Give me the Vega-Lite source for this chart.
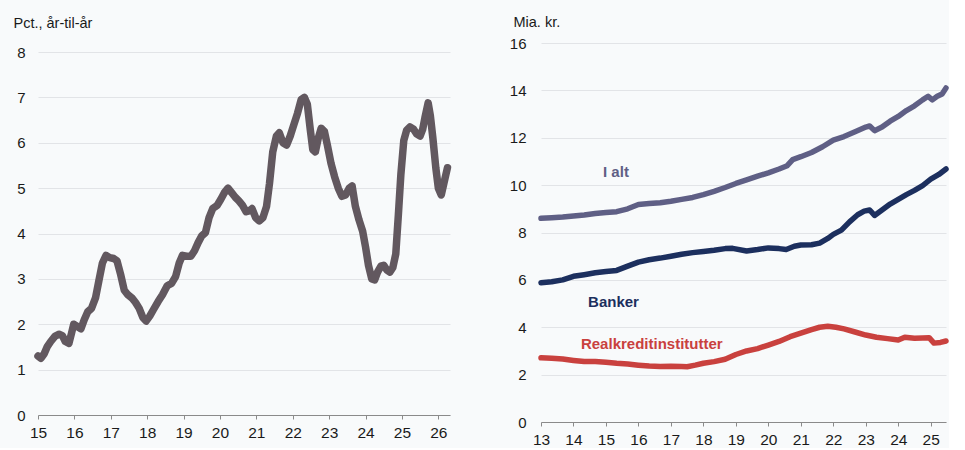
{
  "$schema": "https://vega.github.io/schema/vega-lite/v6.json",
  "background": "#f8fafb",
  "padding": {"left": 13, "top": 14, "right": 0, "bottom": 0},
  "spacing": 57,
  "config": {
    "font": "Liberation Sans",
    "view": {"stroke": null},
    "axis": {"labelFont": "Liberation Sans", "titleFont": "Liberation Sans", "labelColor": "#1a1a1a", "titleColor": "#1a1a1a"}
  },
  "hconcat": [
    {
      "width": 412,
      "height": 372,
      "data": {"values": [
        {"year": 2015.00, "value": 1.30}, {"year": 2015.08, "value": 1.25}, {"year": 2015.17, "value": 1.35},
        {"year": 2015.25, "value": 1.50}, {"year": 2015.35, "value": 1.62}, {"year": 2015.47, "value": 1.74},
        {"year": 2015.58, "value": 1.78}, {"year": 2015.67, "value": 1.75}, {"year": 2015.75, "value": 1.62},
        {"year": 2015.85, "value": 1.58}, {"year": 2015.92, "value": 1.80}, {"year": 2015.98, "value": 2.00},
        {"year": 2016.08, "value": 1.95}, {"year": 2016.18, "value": 1.90}, {"year": 2016.27, "value": 2.10},
        {"year": 2016.37, "value": 2.28}, {"year": 2016.47, "value": 2.35}, {"year": 2016.58, "value": 2.58},
        {"year": 2016.67, "value": 2.95}, {"year": 2016.77, "value": 3.35}, {"year": 2016.87, "value": 3.52},
        {"year": 2016.97, "value": 3.47}, {"year": 2017.08, "value": 3.45}, {"year": 2017.17, "value": 3.40},
        {"year": 2017.27, "value": 3.10}, {"year": 2017.37, "value": 2.75}, {"year": 2017.47, "value": 2.65},
        {"year": 2017.58, "value": 2.58}, {"year": 2017.68, "value": 2.48}, {"year": 2017.78, "value": 2.35},
        {"year": 2017.88, "value": 2.15}, {"year": 2017.97, "value": 2.07}, {"year": 2018.07, "value": 2.18},
        {"year": 2018.17, "value": 2.32}, {"year": 2018.30, "value": 2.50}, {"year": 2018.42, "value": 2.65},
        {"year": 2018.55, "value": 2.85}, {"year": 2018.67, "value": 2.90}, {"year": 2018.78, "value": 3.05},
        {"year": 2018.88, "value": 3.35}, {"year": 2018.97, "value": 3.52}, {"year": 2019.08, "value": 3.50},
        {"year": 2019.20, "value": 3.50}, {"year": 2019.30, "value": 3.62}, {"year": 2019.40, "value": 3.80},
        {"year": 2019.50, "value": 3.95}, {"year": 2019.60, "value": 4.02}, {"year": 2019.70, "value": 4.35},
        {"year": 2019.80, "value": 4.55}, {"year": 2019.92, "value": 4.62}, {"year": 2020.02, "value": 4.75},
        {"year": 2020.12, "value": 4.90}, {"year": 2020.22, "value": 5.00}, {"year": 2020.32, "value": 4.90},
        {"year": 2020.42, "value": 4.80}, {"year": 2020.52, "value": 4.72}, {"year": 2020.62, "value": 4.62},
        {"year": 2020.72, "value": 4.48}, {"year": 2020.80, "value": 4.50}, {"year": 2020.88, "value": 4.55},
        {"year": 2020.98, "value": 4.35}, {"year": 2021.08, "value": 4.28}, {"year": 2021.18, "value": 4.35},
        {"year": 2021.28, "value": 4.60}, {"year": 2021.36, "value": 5.10}, {"year": 2021.45, "value": 5.80},
        {"year": 2021.55, "value": 6.15}, {"year": 2021.63, "value": 6.22}, {"year": 2021.73, "value": 6.00},
        {"year": 2021.83, "value": 5.95}, {"year": 2021.93, "value": 6.15}, {"year": 2022.03, "value": 6.40},
        {"year": 2022.13, "value": 6.65}, {"year": 2022.23, "value": 6.95}, {"year": 2022.32, "value": 7.00},
        {"year": 2022.40, "value": 6.85}, {"year": 2022.48, "value": 6.30}, {"year": 2022.55, "value": 5.85},
        {"year": 2022.62, "value": 5.80}, {"year": 2022.70, "value": 6.10}, {"year": 2022.78, "value": 6.32},
        {"year": 2022.87, "value": 6.25}, {"year": 2022.95, "value": 5.95}, {"year": 2023.05, "value": 5.55},
        {"year": 2023.15, "value": 5.25}, {"year": 2023.25, "value": 5.00}, {"year": 2023.35, "value": 4.82},
        {"year": 2023.45, "value": 4.85}, {"year": 2023.55, "value": 5.00}, {"year": 2023.63, "value": 5.05},
        {"year": 2023.72, "value": 4.60}, {"year": 2023.82, "value": 4.30}, {"year": 2023.92, "value": 4.05},
        {"year": 2024.00, "value": 3.70}, {"year": 2024.08, "value": 3.30}, {"year": 2024.17, "value": 3.00},
        {"year": 2024.25, "value": 2.98}, {"year": 2024.33, "value": 3.15}, {"year": 2024.42, "value": 3.28},
        {"year": 2024.50, "value": 3.30}, {"year": 2024.58, "value": 3.20}, {"year": 2024.67, "value": 3.15},
        {"year": 2024.75, "value": 3.25}, {"year": 2024.83, "value": 3.55}, {"year": 2024.90, "value": 4.40},
        {"year": 2024.97, "value": 5.30}, {"year": 2025.05, "value": 6.05}, {"year": 2025.13, "value": 6.28},
        {"year": 2025.22, "value": 6.35}, {"year": 2025.32, "value": 6.30}, {"year": 2025.40, "value": 6.20},
        {"year": 2025.50, "value": 6.15}, {"year": 2025.57, "value": 6.30}, {"year": 2025.63, "value": 6.55},
        {"year": 2025.72, "value": 6.88}, {"year": 2025.78, "value": 6.60}, {"year": 2025.85, "value": 6.10},
        {"year": 2025.93, "value": 5.45}, {"year": 2026.00, "value": 5.00}, {"year": 2026.08, "value": 4.85},
        {"year": 2026.15, "value": 5.10}, {"year": 2026.25, "value": 5.45}
      ]},
      "mark": {"type": "line", "color": "#62585f", "strokeWidth": 7.5, "strokeCap": "round", "strokeJoin": "round"},
      "encoding": {
        "x": {
          "field": "year", "type": "quantitative",
          "scale": {"domain": [2015, 2026.32], "nice": false, "zero": false},
          "axis": {
            "title": null, "values": [2015, 2016, 2017, 2018, 2019, 2020, 2021, 2022, 2023, 2024, 2025, 2026],
            "labelExpr": "'' + (datum.value - 2000)", "grid": false,
            "domainColor": "#8a8a8a", "tickColor": "#8a8a8a", "tickSize": 4,
            "labelFontSize": 15.5, "labelPadding": 6, "labelFlush": false, "labelOverlap": false
          }
        },
        "y": {
          "field": "value", "type": "quantitative",
          "scale": {"domain": [0, 8.2], "nice": false},
          "axis": {
            "values": [0, 1, 2, 3, 4, 5, 6, 7, 8], "grid": true, "gridColor": "#e2e4e7",
            "domain": false, "ticks": false, "labelPadding": 13, "labelFontSize": 15,
            "title": "Pct., år-til-år", "titleAngle": 0, "titleAlign": "left", "titleBaseline": "alphabetic",
            "titleX": -25, "titleY": -16, "titleFontSize": 14.5, "titleFontWeight": "normal"
          }
        }
      }
    },
    {
      "width": 405,
      "height": 379,
      "encoding": {
        "x": {
          "field": "year", "type": "quantitative",
          "scale": {"domain": [2013, 2025.47], "nice": false, "zero": false},
          "axis": {
            "title": null, "values": [2013, 2014, 2015, 2016, 2017, 2018, 2019, 2020, 2021, 2022, 2023, 2024, 2025],
            "labelExpr": "'' + (datum.value - 2000)", "grid": false,
            "domainColor": "#8a8a8a", "tickColor": "#8a8a8a", "tickSize": 4,
            "labelFontSize": 15.5, "labelPadding": 6, "labelFlush": false, "labelOverlap": false
          }
        },
        "y": {
          "field": "value", "type": "quantitative",
          "scale": {"domain": [0, 16], "nice": false},
          "axis": {
            "values": [0, 2, 4, 6, 8, 10, 12, 14, 16], "grid": true, "gridColor": "#e2e4e7",
            "domain": false, "ticks": false, "labelPadding": 15, "labelFontSize": 15,
            "title": "Mia. kr.", "titleAngle": 0, "titleAlign": "left", "titleBaseline": "alphabetic",
            "titleX": -28, "titleY": -17, "titleFontSize": 14.5, "titleFontWeight": "normal"
          }
        },
        "color": {
          "field": "series", "type": "nominal",
          "scale": {"domain": ["I alt", "Banker", "Realkreditinstitutter"], "range": ["#5f5f85", "#1c2f5e", "#c9413e"]},
          "legend": null
        }
      },
      "layer": [
        {
          "data": {"values": [
            {"series": "I alt", "year": 2013.00, "value": 8.60}, {"series": "I alt", "year": 2013.33, "value": 8.62},
            {"series": "I alt", "year": 2013.67, "value": 8.65}, {"series": "I alt", "year": 2014.00, "value": 8.70},
            {"series": "I alt", "year": 2014.33, "value": 8.74}, {"series": "I alt", "year": 2014.67, "value": 8.80},
            {"series": "I alt", "year": 2015.00, "value": 8.84}, {"series": "I alt", "year": 2015.33, "value": 8.88},
            {"series": "I alt", "year": 2015.67, "value": 9.00}, {"series": "I alt", "year": 2016.00, "value": 9.18},
            {"series": "I alt", "year": 2016.33, "value": 9.22}, {"series": "I alt", "year": 2016.67, "value": 9.26},
            {"series": "I alt", "year": 2017.00, "value": 9.32}, {"series": "I alt", "year": 2017.33, "value": 9.40},
            {"series": "I alt", "year": 2017.67, "value": 9.48}, {"series": "I alt", "year": 2018.00, "value": 9.60},
            {"series": "I alt", "year": 2018.33, "value": 9.74}, {"series": "I alt", "year": 2018.67, "value": 9.90},
            {"series": "I alt", "year": 2019.00, "value": 10.07}, {"series": "I alt", "year": 2019.33, "value": 10.22},
            {"series": "I alt", "year": 2019.67, "value": 10.38}, {"series": "I alt", "year": 2020.00, "value": 10.52},
            {"series": "I alt", "year": 2020.33, "value": 10.68}, {"series": "I alt", "year": 2020.58, "value": 10.82},
            {"series": "I alt", "year": 2020.75, "value": 11.08}, {"series": "I alt", "year": 2021.00, "value": 11.20},
            {"series": "I alt", "year": 2021.33, "value": 11.38}, {"series": "I alt", "year": 2021.67, "value": 11.62},
            {"series": "I alt", "year": 2022.00, "value": 11.90}, {"series": "I alt", "year": 2022.33, "value": 12.05},
            {"series": "I alt", "year": 2022.67, "value": 12.25}, {"series": "I alt", "year": 2023.00, "value": 12.45},
            {"series": "I alt", "year": 2023.12, "value": 12.50}, {"series": "I alt", "year": 2023.27, "value": 12.30},
            {"series": "I alt", "year": 2023.50, "value": 12.45}, {"series": "I alt", "year": 2023.75, "value": 12.70},
            {"series": "I alt", "year": 2024.00, "value": 12.90}, {"series": "I alt", "year": 2024.25, "value": 13.15},
            {"series": "I alt", "year": 2024.50, "value": 13.35}, {"series": "I alt", "year": 2024.75, "value": 13.60},
            {"series": "I alt", "year": 2024.92, "value": 13.75}, {"series": "I alt", "year": 2025.05, "value": 13.60},
            {"series": "I alt", "year": 2025.20, "value": 13.75}, {"series": "I alt", "year": 2025.35, "value": 13.85},
            {"series": "I alt", "year": 2025.47, "value": 14.10},
            {"series": "Banker", "year": 2013.00, "value": 5.88}, {"series": "Banker", "year": 2013.33, "value": 5.92},
            {"series": "Banker", "year": 2013.67, "value": 6.00}, {"series": "Banker", "year": 2014.00, "value": 6.15},
            {"series": "Banker", "year": 2014.33, "value": 6.22}, {"series": "Banker", "year": 2014.67, "value": 6.30},
            {"series": "Banker", "year": 2015.00, "value": 6.35}, {"series": "Banker", "year": 2015.33, "value": 6.40},
            {"series": "Banker", "year": 2015.67, "value": 6.58}, {"series": "Banker", "year": 2016.00, "value": 6.75},
            {"series": "Banker", "year": 2016.33, "value": 6.85}, {"series": "Banker", "year": 2016.67, "value": 6.92},
            {"series": "Banker", "year": 2017.00, "value": 7.00}, {"series": "Banker", "year": 2017.33, "value": 7.08},
            {"series": "Banker", "year": 2017.67, "value": 7.15}, {"series": "Banker", "year": 2018.00, "value": 7.20},
            {"series": "Banker", "year": 2018.33, "value": 7.25}, {"series": "Banker", "year": 2018.67, "value": 7.32},
            {"series": "Banker", "year": 2018.90, "value": 7.33}, {"series": "Banker", "year": 2019.33, "value": 7.22},
            {"series": "Banker", "year": 2019.67, "value": 7.28}, {"series": "Banker", "year": 2020.00, "value": 7.35},
            {"series": "Banker", "year": 2020.33, "value": 7.32}, {"series": "Banker", "year": 2020.55, "value": 7.28},
            {"series": "Banker", "year": 2020.80, "value": 7.42}, {"series": "Banker", "year": 2021.00, "value": 7.47},
            {"series": "Banker", "year": 2021.33, "value": 7.48}, {"series": "Banker", "year": 2021.58, "value": 7.55},
            {"series": "Banker", "year": 2021.83, "value": 7.75}, {"series": "Banker", "year": 2022.00, "value": 7.92},
            {"series": "Banker", "year": 2022.25, "value": 8.10}, {"series": "Banker", "year": 2022.50, "value": 8.45},
            {"series": "Banker", "year": 2022.75, "value": 8.75}, {"series": "Banker", "year": 2022.95, "value": 8.90},
            {"series": "Banker", "year": 2023.12, "value": 8.95}, {"series": "Banker", "year": 2023.27, "value": 8.72},
            {"series": "Banker", "year": 2023.50, "value": 8.95}, {"series": "Banker", "year": 2023.75, "value": 9.20},
            {"series": "Banker", "year": 2024.00, "value": 9.40}, {"series": "Banker", "year": 2024.25, "value": 9.60},
            {"series": "Banker", "year": 2024.50, "value": 9.78}, {"series": "Banker", "year": 2024.75, "value": 9.98},
            {"series": "Banker", "year": 2025.00, "value": 10.25}, {"series": "Banker", "year": 2025.25, "value": 10.45},
            {"series": "Banker", "year": 2025.47, "value": 10.68},
            {"series": "Realkreditinstitutter", "year": 2013.00, "value": 2.71}, {"series": "Realkreditinstitutter", "year": 2013.33, "value": 2.69},
            {"series": "Realkreditinstitutter", "year": 2013.67, "value": 2.66}, {"series": "Realkreditinstitutter", "year": 2014.00, "value": 2.60},
            {"series": "Realkreditinstitutter", "year": 2014.33, "value": 2.55}, {"series": "Realkreditinstitutter", "year": 2014.67, "value": 2.55},
            {"series": "Realkreditinstitutter", "year": 2015.00, "value": 2.52}, {"series": "Realkreditinstitutter", "year": 2015.33, "value": 2.48},
            {"series": "Realkreditinstitutter", "year": 2015.67, "value": 2.45}, {"series": "Realkreditinstitutter", "year": 2016.00, "value": 2.40},
            {"series": "Realkreditinstitutter", "year": 2016.33, "value": 2.36}, {"series": "Realkreditinstitutter", "year": 2016.67, "value": 2.34},
            {"series": "Realkreditinstitutter", "year": 2017.00, "value": 2.35}, {"series": "Realkreditinstitutter", "year": 2017.33, "value": 2.34},
            {"series": "Realkreditinstitutter", "year": 2017.50, "value": 2.33}, {"series": "Realkreditinstitutter", "year": 2017.75, "value": 2.40},
            {"series": "Realkreditinstitutter", "year": 2018.00, "value": 2.48}, {"series": "Realkreditinstitutter", "year": 2018.33, "value": 2.55},
            {"series": "Realkreditinstitutter", "year": 2018.67, "value": 2.65}, {"series": "Realkreditinstitutter", "year": 2019.00, "value": 2.85},
            {"series": "Realkreditinstitutter", "year": 2019.33, "value": 3.00}, {"series": "Realkreditinstitutter", "year": 2019.67, "value": 3.10},
            {"series": "Realkreditinstitutter", "year": 2020.00, "value": 3.25}, {"series": "Realkreditinstitutter", "year": 2020.33, "value": 3.40},
            {"series": "Realkreditinstitutter", "year": 2020.67, "value": 3.60}, {"series": "Realkreditinstitutter", "year": 2021.00, "value": 3.75},
            {"series": "Realkreditinstitutter", "year": 2021.33, "value": 3.90}, {"series": "Realkreditinstitutter", "year": 2021.58, "value": 4.00},
            {"series": "Realkreditinstitutter", "year": 2021.83, "value": 4.04}, {"series": "Realkreditinstitutter", "year": 2022.08, "value": 4.00},
            {"series": "Realkreditinstitutter", "year": 2022.33, "value": 3.93}, {"series": "Realkreditinstitutter", "year": 2022.67, "value": 3.80},
            {"series": "Realkreditinstitutter", "year": 2023.00, "value": 3.67}, {"series": "Realkreditinstitutter", "year": 2023.33, "value": 3.58},
            {"series": "Realkreditinstitutter", "year": 2023.67, "value": 3.52}, {"series": "Realkreditinstitutter", "year": 2024.00, "value": 3.46},
            {"series": "Realkreditinstitutter", "year": 2024.20, "value": 3.58}, {"series": "Realkreditinstitutter", "year": 2024.50, "value": 3.54},
            {"series": "Realkreditinstitutter", "year": 2024.75, "value": 3.55}, {"series": "Realkreditinstitutter", "year": 2024.95, "value": 3.56},
            {"series": "Realkreditinstitutter", "year": 2025.10, "value": 3.33}, {"series": "Realkreditinstitutter", "year": 2025.30, "value": 3.36},
            {"series": "Realkreditinstitutter", "year": 2025.47, "value": 3.42}
          ]},
          "mark": {"type": "line", "strokeWidth": 5.5, "strokeCap": "round", "strokeJoin": "round"},
          "encoding": {
            "detail": {"field": "series"}
          }
        },
        {
          "data": {"values": [
            {"series": "I alt", "year": 2014.91, "value": 10.34},
            {"series": "Banker", "year": 2014.45, "value": 4.85},
            {"series": "Realkreditinstitutter", "year": 2014.23, "value": 3.08}
          ]},
          "mark": {"type": "text", "align": "left", "baseline": "alphabetic", "fontSize": 15, "fontWeight": "bold"},
          "encoding": {
            "text": {"field": "series"}
          }
        }
      ]
    }
  ]
}
